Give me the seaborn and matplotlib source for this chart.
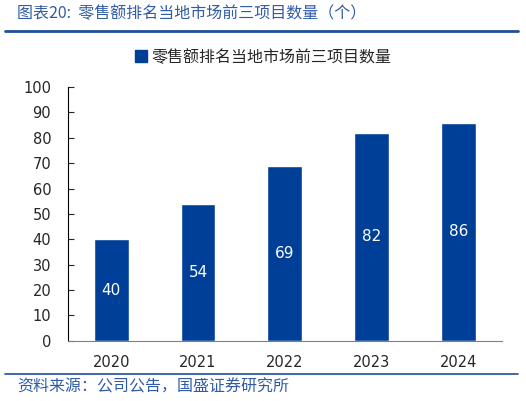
import matplotlib
matplotlib.use("Agg")
import pandas as pd
import seaborn as sns
from matplotlib import pyplot as plt
from matplotlib.lines import Line2D

# data
years = ["2020", "2021", "2022", "2023", "2024"]
counts = [40, 54, 69, 82, 86]
series_name = "零售额排名当地市场前三项目数量"
title_text = "图表20:  零售额排名当地市场前三项目数量（个）"
source_text = "资料来源：公司公告，国盛证券研究所"

bar_color = "#003F98"
note_color = "#2F5BA8"

sns.set_style("white")
plt.rcParams['font.family'] = ['Noto Sans CJK SC', 'DejaVu Sans']

df = pd.DataFrame({'year': years, 'count': counts})

fig = plt.figure(figsize=(5.26, 4.01), dpi=100)
ax = fig.add_axes([0.129, 0.150, 0.825, 0.633])

sns.barplot(data=df, x='year', y='count', ax=ax, color=bar_color,
            width=0.4, saturation=1)

for container in ax.containers:
    ax.bar_label(container, label_type='center', color='white',
                 fontsize=11, family='DejaVu Sans')

ax.set_ylim(0, 100)
ax.set_yticks(range(0, 101, 10))
ax.set_xlim(-0.5, len(years) - 0.5)
ax.set_xlabel('')
ax.set_ylabel('')

# category boundary ticks on the x axis
ax.set_xticks([i - 0.5 for i in range(len(years) + 1)], minor=True)
ax.tick_params(axis='x', which='major', length=0, labelsize=10.5, pad=10)
ax.tick_params(axis='x', which='minor', direction='in', length=4, color='#808080')
ax.tick_params(axis='y', direction='in', length=4, labelsize=10.5, pad=12, left=True)
for lab in ax.get_xticklabels() + ax.get_yticklabels():
    lab.set_family('DejaVu Sans')

for side in ['top', 'right']:
    ax.spines[side].set_visible(False)
ax.spines['left'].set_color('black')
ax.spines['bottom'].set_color('#808080')

handle = Line2D([], [], marker='s', linestyle='', color=bar_color, markersize=8)
fig.legend([handle], [series_name], loc='center', bbox_to_anchor=(0.50, 0.857),
           frameon=False, fontsize=11.5, handletextpad=0.2, handlelength=0.8)

fig.text(0.032, 0.965, title_text, color=note_color, fontsize=11.5, style='italic', va='center')
fig.add_artist(Line2D([0.01, 0.985], [0.922, 0.922], color='#1F4E9B', linewidth=2))
fig.add_artist(Line2D([0.01, 0.985], [0.067, 0.067], color='#1F4E9B', linewidth=1.2))
fig.text(0.032, 0.035, source_text, color=note_color, fontsize=11.5, style='italic', va='center')

fig.savefig("out.png", dpi=100, facecolor='white')
plt.close(fig)
